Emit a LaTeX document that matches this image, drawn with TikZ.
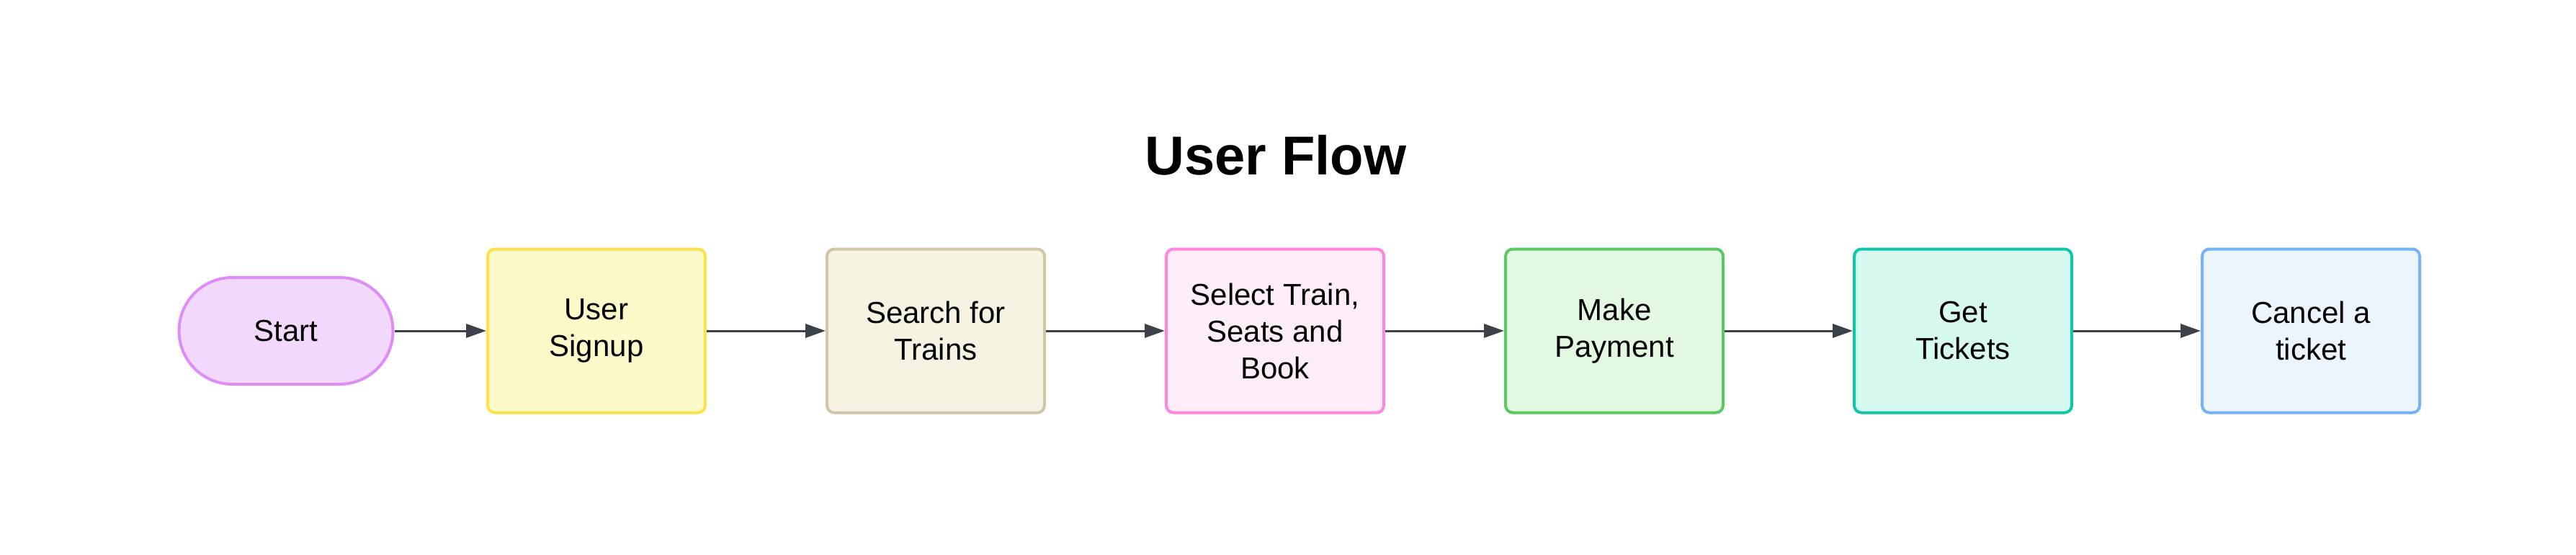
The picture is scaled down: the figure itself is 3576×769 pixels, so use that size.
\documentclass[tikz,border=0pt]{standalone}
\usepackage{fontspec}
\setmainfont{Liberation Sans}
\usetikzlibrary{arrows.meta}
\definecolor{startfill}{HTML}{F2D9FC}
\definecolor{startdraw}{HTML}{DE8CF8}
\definecolor{signfill}{HTML}{FCFAC8}
\definecolor{signdraw}{HTML}{FDE14A}
\definecolor{searchfill}{HTML}{F7F3E3}
\definecolor{searchdraw}{HTML}{D0C6A8}
\definecolor{selfill}{HTML}{FEEEFA}
\definecolor{seldraw}{HTML}{FF85DF}
\definecolor{payfill}{HTML}{E3F9E1}
\definecolor{paydraw}{HTML}{5CC763}
\definecolor{getfill}{HTML}{D6F9F1}
\definecolor{getdraw}{HTML}{14C4A8}
\definecolor{cancelfill}{HTML}{ECF4FE}
\definecolor{canceldraw}{HTML}{74B3F8}
\definecolor{arrowc}{HTML}{3D4149}
\begin{document}
\begin{tikzpicture}[x=1pt,y=-1pt,
  nodetext/.style={align=center, font=\fontsize{42}{51}\selectfont, inner sep=0pt, text=black},
  box/.style={nodetext, draw, line width=4pt, rounded corners=10pt, minimum width=302pt, minimum height=227pt},
  pill/.style={nodetext, draw, line width=4pt, rounded corners=74pt, minimum width=297pt, minimum height=148pt},
  arr/.style={draw=arrowc, line width=3pt, -{Triangle[length=28pt,width=19pt]}}]
\useasboundingbox (0,0) rectangle (3576,769);
\node (title) at (1771,242) [anchor=base, font=\bfseries\fontsize{76}{76}\selectfont] {User Flow};
\node (start) at (397,459) [pill, fill=startfill, draw=startdraw] {Start};
\node (signup) at (828,459) [box, fill=signfill, draw=signdraw] {User\\Signup};
\node (search) at (1299,459) [box, fill=searchfill, draw=searchdraw] {Search for\\Trains};
\node (select) at (1770,459) [box, fill=selfill, draw=seldraw] {Select Train,\\Seats and\\Book};
\node (pay) at (2241,459) [box, fill=payfill, draw=paydraw] {Make\\Payment};
\node (get) at (2725,459) [box, fill=getfill, draw=getdraw] {Get\\Tickets};
\node (cancel) at (3208,459) [box, fill=cancelfill, draw=canceldraw] {Cancel a\\ticket};
\draw[arr] (start) -- (signup);
\draw[arr] (signup) -- (search);
\draw[arr] (search) -- (select);
\draw[arr] (select) -- (pay);
\draw[arr] (pay) -- (get);
\draw[arr] (get) -- (cancel);
\end{tikzpicture}
\end{document}
